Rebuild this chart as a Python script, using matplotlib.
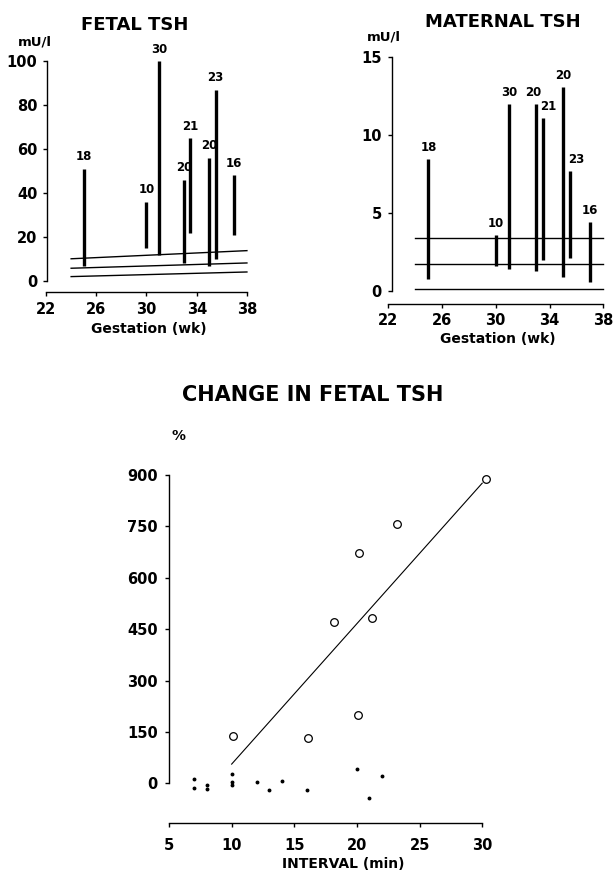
import matplotlib
matplotlib.use('Agg')
import matplotlib.pyplot as plt

# gestation (wk) of each sampling, and the interval (min) printed above each bar
weeks = [25, 30, 31, 33, 33.5, 35, 35.5, 37]
interval_labels = ['18', '10', '30', '20', '21', '20', '23', '16']

# fetal TSH (mU/l): before and after
fetal_low = [7, 15, 12, 8, 22, 7, 10, 21]
fetal_high = [51, 36, 100, 46, 65, 56, 87, 48]
# fetal reference lines (value at 24 wk and at 38 wk)
fetal_ref_x = [24, 38]
fetal_ref = [[10.1, 13.8], [5.8, 8.2], [2.0, 4.1]]

# maternal TSH (mU/l)
maternal_low = [0.8, 1.6, 1.4, 1.3, 2.0, 0.9, 2.1, 0.6]
maternal_high = [8.5, 3.6, 12.0, 12.0, 11.1, 13.1, 7.7, 4.45]
maternal_ref_x = [24, 38]
maternal_ref = [3.42, 1.71, 0.1]

# change in fetal TSH (%) vs interval (min)
open_x = [10.1, 16.1, 18.2, 20.1, 20.2, 21.2, 23.2, 30.3]
open_y = [139, 131, 471, 199, 672, 481, 758, 887]
dot_x = [7, 7, 8, 8, 10, 10, 10, 12, 13, 14, 16, 20, 21, 22]
dot_y = [12, -15, -5, -18, 26, 3, -5, 5, -21, 8, -21, 42, -42, 20]
fit_x = [10, 30]
fit_y = [56, 876]

plt.rcParams['font.family'] = ['DejaVu Sans']
plt.rcParams['font.weight'] = 'bold'

W, H = 614, 874
fig = plt.figure(figsize=(W / 100, H / 100), dpi=100)


def px_axes(l, r, t, b):
    return fig.add_axes([l / W, 1 - b / H, (r - l) / W, (b - t) / H])


def style(ax, yspine_x, ybounds, xbounds, fs=10.5, pad=4):
    ax.spines['top'].set_visible(False)
    ax.spines['right'].set_visible(False)
    ax.spines['left'].set_position(('data', yspine_x))
    ax.spines['left'].set_bounds(*ybounds)
    ax.spines['bottom'].set_bounds(*xbounds)
    for s in ('left', 'bottom'):
        ax.spines[s].set_linewidth(1.0)
    ax.tick_params(length=3, width=1, labelsize=fs, pad=pad)
    for lab in ax.get_xticklabels() + ax.get_yticklabels():
        lab.set_fontweight('bold')


# ---- FETAL TSH ----
ax1 = px_axes(43.5, 253.2, 47.8, 292)
ax1.set_xlim(21.8, 38.5)
ax1.set_ylim(-5, 106)
ax1.vlines(weeks, fetal_low, fetal_high, colors='black', linewidth=2.4)
for ref in fetal_ref:
    ax1.plot(fetal_ref_x, ref, color='black', linewidth=1.0)
for x, top, lab in zip(weeks, fetal_high, interval_labels):
    ax1.annotate(lab, (x, top), xytext=(0, 8.5), textcoords='offset points',
                 ha='center', va='center', fontsize=8.5, fontweight='bold')
ax1.set_xticks([22, 26, 30, 34, 38])
ax1.set_yticks([0, 20, 40, 60, 80, 100])
style(ax1, 22.1, (0, 100), (22, 38))
ax1.set_xlabel('Gestation (wk)', fontsize=10, fontweight='bold', labelpad=4)
fig.text(135 / W, 1 - 25 / H, 'FETAL TSH', ha='center', va='center',
         fontsize=13, fontweight='bold')
fig.text(35 / W, 1 - 42 / H, 'mU/l', ha='center', va='center',
         fontsize=9.5, fontweight='bold')

# ---- MATERNAL TSH ----
ax2 = px_axes(385.3, 610.1, 44.8, 303.5)
ax2.set_xlim(21.8, 38.5)
ax2.set_ylim(-0.8, 15.8)
ax2.vlines(weeks, maternal_low, maternal_high, colors='black', linewidth=2.4)
for ref in maternal_ref:
    ax2.plot(maternal_ref_x, [ref, ref], color='black', linewidth=1.0)
label_dx = [0, 0, 0, -2, 4, 0, 4.5, 0]
for x, top, lab, dx in zip(weeks, maternal_high, interval_labels, label_dx):
    ax2.annotate(lab, (x, top), xytext=(dx, 8), textcoords='offset points',
                 ha='center', va='center', fontsize=8.5, fontweight='bold')
ax2.set_xticks([22, 26, 30, 34, 38])
ax2.set_yticks([0, 5, 10, 15])
style(ax2, 22.27, (0, 15), (22, 38))
ax2.set_xlabel('Gestation (wk)', fontsize=10, fontweight='bold', labelpad=3)
fig.text(503 / W, 1 - 22 / H, 'MATERNAL TSH', ha='center', va='center',
         fontsize=13, fontweight='bold')
fig.text(384 / W, 1 - 37 / H, 'mU/l', ha='center', va='center',
         fontsize=9.5, fontweight='bold')

# ---- CHANGE IN FETAL TSH ----
ax3 = px_axes(166.5, 519.8, 471.5, 822.7)
ax3.set_xlim(4.8, 33)
ax3.set_ylim(-115, 910)
ax3.plot(fit_x, fit_y, color='black', linewidth=0.8)
ax3.plot(open_x, open_y, 'o', markerfacecolor='white', markeredgecolor='black',
         markersize=5.5, markeredgewidth=0.9)
ax3.plot(dot_x, dot_y, 'o', color='black', markersize=1.8)
ax3.set_xticks([5, 10, 15, 20, 25, 30])
ax3.set_yticks([0, 150, 300, 450, 600, 750, 900])
style(ax3, 5, (0, 900), (5, 30), pad=5)
ax3.tick_params(axis='x', pad=8)
ax3.set_xlabel('INTERVAL (min)', fontsize=10, fontweight='bold', labelpad=3)
fig.text(313 / W, 1 - 395 / H, 'CHANGE IN FETAL TSH', ha='center', va='center',
         fontsize=15, fontweight='bold')
fig.text(179 / W, 1 - 436 / H, '%', ha='center', va='center',
         fontsize=10, fontweight='bold')

fig.savefig('out.png', dpi=100)
